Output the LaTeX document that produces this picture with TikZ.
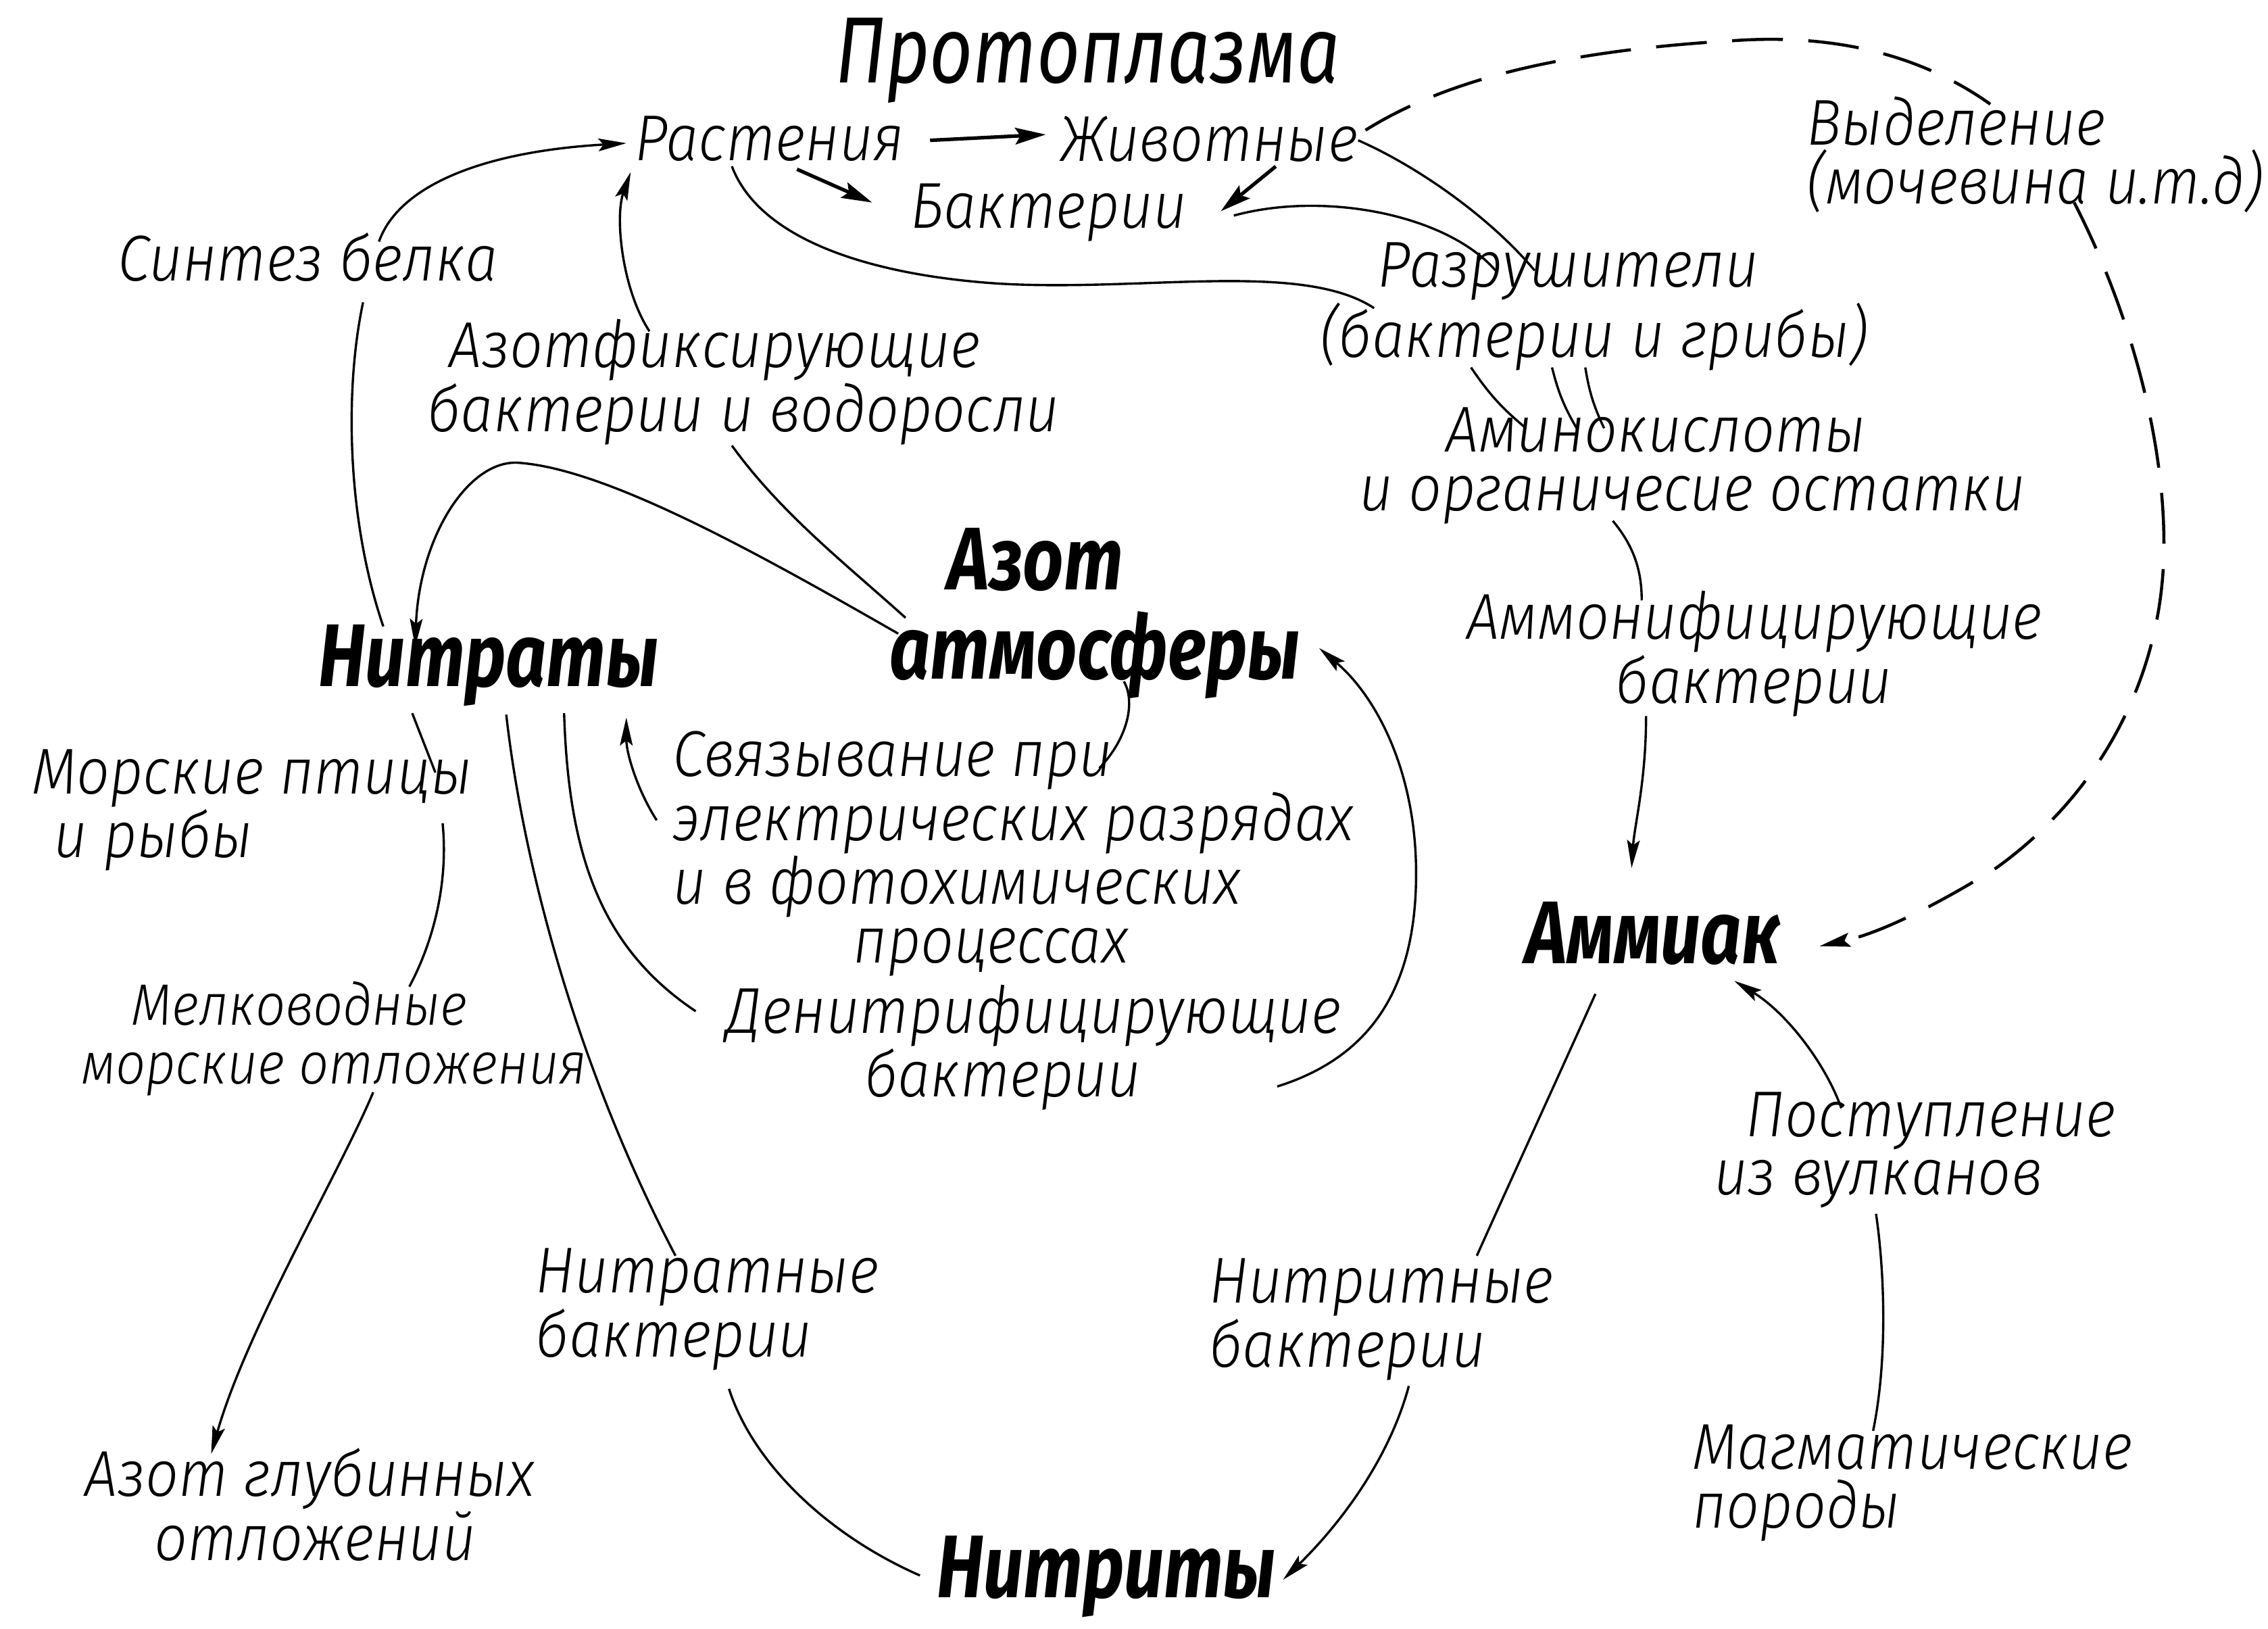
\documentclass[tikz,border=0pt]{standalone}
\usepackage{fontspec}
\newfontfamily\handfont{Fira Sans Light}[FakeStretch=0.9,ItalicFont={Fira Sans Light Italic}]
\newfontfamily\headfont{Fira Sans}[FakeStretch=0.8]
\usetikzlibrary{arrows.meta,calc}

\begin{document}
\begin{tikzpicture}[
    x=0.02cm, y=-0.02cm,
    txt/.style={font=\handfont\itshape\fontsize{25.5}{23}\selectfont, inner sep=1pt, align=center},
    smalltxt/.style={txt, font=\handfont\itshape\fontsize{23}{23}\selectfont},
    bigtxt/.style={font=\headfont\bfseries\itshape\fontsize{35}{35}\selectfont, inner sep=1pt, align=left},
    headline/.style={font=\headfont\itshape\fontsize{37}{30}\selectfont, inner sep=1pt},
    link/.style={line width=0.9pt},
    arr/.style={link, -{Stealth[length=11pt,width=5pt,inset=2pt]}},
    heavyarr/.style={line width=1.4pt, -{Stealth[length=12pt,width=6.5pt,inset=2pt]}},
    excrline/.style={line width=1.2pt, dash pattern=on 20pt off 10pt}
]
\useasboundingbox (0,0) rectangle (1568,1126);

\node[headline] (proto) at (752,42) {Протоплазма};
\node[txt] (plants) at (532,96) {Растения};
\node[txt] (animals) at (836,96) {Животные};
\node[txt] (bact) at (725,147) {Бактерии};
\node[txt, anchor=west, align=left] (excr) at (1247,107) {Выделение\\(мочевина и.т.д)};
\node[txt] (synth) at (213,178) {Синтез белка};
\node[txt, align=left] (destr) at (1102,212) {\hspace*{0.8cm}Разрушители\\(бактерии и грибы)};
\node[txt, align=left] (fix) at (514,264) {\hspace*{0.3cm}Азотфиксирующие\\бактерии и водоросли};
\node[txt, align=left] (amino) at (1170,322) {\hspace*{1.2cm}Аминокислоты\\и органичесие остатки};
\node[bigtxt] (atm) at (757,424) {\hspace*{0.8cm}Азот\\атмосферы};
\node[bigtxt] (nitrates) at (338,460) {Нитраты};
\node[txt, align=left] (ammon) at (1213,452) {Аммонифицирующие\\\hspace*{2.06cm}бактерии};
\node[txt, anchor=west, align=left] (birds) at (20,560) {Морские птицы\\\hspace*{0.3cm}и рыбы};
\node[txt, anchor=west, align=left] (fixel) at (463,590) {Связывание при\\электрических разрядах\\и в фотохимических\\\hspace*{2.5cm}процессах};
\node[bigtxt] (ammonia) at (1143,645) {Аммиак};
\node[smalltxt, align=left] (shallow) at (231,718) {\hspace*{0.7cm}Мелководные\\морские отложения};
\node[txt, align=left] (denitr) at (715,724) {Денитрифицирующие\\\hspace*{1.9cm}бактерии};
\node[txt, align=left] (volc) at (1324,795) {\hspace*{0.44cm}Поступление\\из вулканов};
\node[txt, align=left] (nitratb) at (489,905) {Нитратные\\бактерии};
\node[txt, align=left] (nitritb) at (955,912) {Нитритные\\бактерии};
\node[txt, align=left] (deep) at (214,1040) {Азот глубинных\\\hspace*{0.96cm}отложений};
\node[txt, anchor=west, align=left] (magma) at (1168,1025) {Магматические\\породы};
\node[bigtxt] (nitrites) at (765,1090) {Нитриты};

\draw[heavyarr] ($(plants)+(111,1)$) -- ($(animals)+(-113,-3)$);
\draw[heavyarr] ($(plants)+(19,21)$) -- ($(bact)+(-122,-7)$);
\draw[heavyarr] ($(animals)+(46,19)$) -- ($(bact)+(119,-1)$);

\draw[link] ($(nitrates)+(-73,-27)$) .. controls (240,360) and (238,270) .. ($(synth)+(38,31)$);
\draw[arr] ($(synth)+(49,-11)$) .. controls (275,130) and (330,105) .. ($(plants)+(-99,3)$);
\draw[arr] ($(atm)+(-136,14)$) .. controls (520,380) and (420,325) .. (360,320)
    .. controls (325,316) and (290,370) .. ($(nitrates)+(-51,-13)$);
\draw[link] ($(atm)+(-131,3)$) .. controls (585,390) and (540,355) .. ($(fix)+(-8,44)$);
\draw[arr] ($(fix)+(-65,-35)$) .. controls (430,200) and (425,150) .. ($(plants)+(-96,23)$);
\draw[link] ($(atm)+(20,47)$) .. controls (785,485) and (780,510) .. ($(fixel.west)+(297,-59)$);
\draw[arr] ($(fixel.west)+(-9,-23)$) .. controls (440,545) and (433,520) .. ($(nitrates)+(95,36)$);
\draw[link] ($(nitrates)+(52,33)$) .. controls (393,590) and (415,655) .. ($(denitr)+(-234,-25)$);
\draw[arr] ($(denitr)+(168,27)$) .. controls (950,730) and (980,680) .. (979,600)
    .. controls (978,530) and (950,480) .. ($(atm)+(155,24)$);

\draw[link] ($(nitrates)+(-53,33)$) -- ($(birds.west)+(281,-26)$);
\draw[link] ($(birds.west)+(286,9)$) .. controls (310,610) and (300,650) .. ($(shallow)+(52,-36)$);
\draw[arr] ($(shallow)+(27,37)$) .. controls (235,810) and (170,920) .. ($(deep)+(-68,-35)$);

\draw[link] ($(nitrates)+(12,34)$) .. controls (362,600) and (400,740) .. ($(nitratb)+(-22,-37)$);
\draw[link] ($(nitratb)+(15,55)$) .. controls (520,1010) and (570,1060) .. ($(nitrites)+(-129,-1)$);
\draw[link] ($(ammonia)+(-40,42)$) .. controls (1076,747) and (1048,808) .. ($(nitritb)+(66,-44)$);
\draw[arr] ($(nitritb)+(19,46)$) .. controls (960,1010) and (925,1055) .. ($(nitrites)+(122,2)$);

\draw[link] ($(magma.west)+(127,-36)$) .. controls (1305,940) and (1303,880) .. ($(volc)+(-27,44)$);
\draw[arr] ($(volc)+(-51,-29)$) .. controls (1262,735) and (1235,700) .. ($(ammonia)+(56,33)$);

\draw[link] ($(amino)+(-55,38)$) .. controls (1130,378) and (1135,395) .. ($(ammon)+(-78,-37)$);
\draw[arr] ($(ammon)+(-75,43)$) .. controls (1138,540) and (1130,570) .. ($(ammonia)+(-15,-45)$);

\draw[link] ($(plants)+(-26,19)$) .. controls (525,165) and (600,190) .. (690,196)
    .. controls (790,202) and (900,180) .. ($(destr)+(-152,1)$);
\draw[link] ($(bact)+(128,2)$) .. controls (915,132) and (1000,148) .. ($(destr)+(-68,-25)$);
\draw[link] ($(animals)+(103,1)$) .. controls (980,115) and (1030,150) .. ($(destr)+(-41,-25)$);
\foreach \a/\b in {-85/-115, -29/-80, -6/-61}
  \draw[link] ($(destr)+(\a,42)$) to[bend right=8] ($(amino)+(\b,-26)$);

\draw[excrline] ($(animals)+(108,-6)$) .. controls (1000,55) and (1080,35) .. (1200,28)
    .. controls (1290,22) and (1345,50) .. ($(excr.west)+(129,-35)$);
\draw[excrline, -{Stealth[length=12pt,width=5.5pt,inset=2pt]}] ($(excr.west)+(187,33)$)
    .. controls (1470,210) and (1497,300) .. (1496,380)
    .. controls (1495,470) and (1450,550) .. (1380,600)
    .. controls (1340,625) and (1300,645) .. ($(ammonia)+(115,9)$);
\end{tikzpicture}
\end{document}
